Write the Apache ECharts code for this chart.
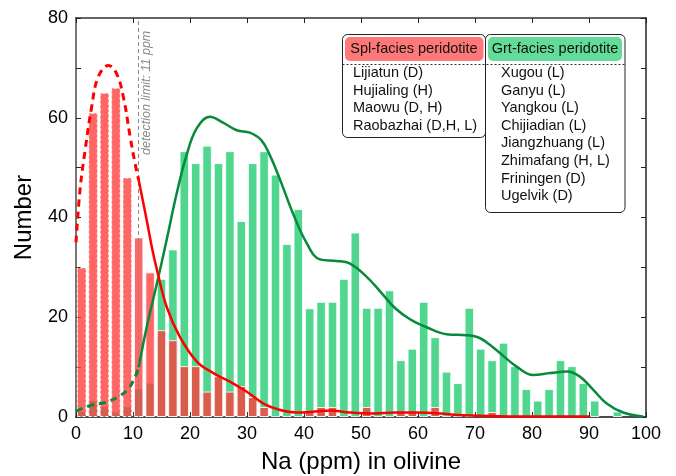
<!DOCTYPE html>
<html>
<head>
<meta charset="utf-8">
<script src="https://cdn.jsdelivr.net/npm/echarts@6/dist/echarts.min.js"></script>
<style>
  html, body { margin: 0; padding: 0; background: #fff; }
  #main { width: 676px; height: 476px; }
</style>
</head>
<body>
<div id="main"></div>
<script>
// 2 ppm bins, centre of each bin
const binCenters = [1, 3, 5, 7, 9, 11, 13, 15, 17, 19, 21, 23, 25, 27, 29, 31, 33, 35, 37, 39,
  41, 43, 45, 47, 49, 51, 53, 55, 57, 59, 61, 63, 65, 67, 69, 71, 73, 75, 77, 79,
  81, 83, 85, 87, 89, 91, 93, 95, 97, 99];
// Spl-facies peridotite counts
const splCounts = [30, 61, 65, 66, 48, 36, 29, 17.4, 15.4, 10.2, 10.2, 5.1, 8.2, 5.1, 6.2, 4, 2, 0, 0, 0,
  1, 2, 2, 0, 0, 2, 0, 0, 1, 1, 0, 2, 0, 0, 0, 0, 1, 0, 0, 0,
  0, 0, 0, 0, 0, 0, 0, 0, 0, 0];
// Grt-facies peridotite counts
const grtCounts = [1.2, 3.3, 2.1, 1.1, 2.1, 5.7, 6.9, 27.7, 33.6, 53.3, 50.9, 54.4, 50.9, 53.3, 39.3, 50.9, 53.3, 48.6, 34.7, 41.7,
  21.8, 23.1, 23.1, 27.7, 37, 21.9, 21.9, 25.4, 11.4, 13.7, 23.1, 16, 9.1, 6.8, 21.9, 13.7, 11.4, 14.9, 10.2, 5.6,
  3.3, 5.6, 11.4, 10.2, 6.8, 3.3, 0, 1.1, 0, 0];

// density curves, dashed below the detection limit
const splCurveLow = [[0, 35], [0.7, 45.5], [1.6, 53.5], [2.75, 62.2], [3.9, 68.2], [5.7, 70.5], [7.1, 68.9],
  [8.3, 64.2], [9.5, 56.2], [10.35, 50.9], [11, 47.5]];
const splCurveHigh = [[11, 47.5], [12.4, 39.5], [13.3, 34.1], [14.2, 29.5], [15.9, 22.1], [18.2, 16.1], [21.2, 11.1],
  [24.1, 8.8], [27, 7.1], [29.9, 5.1], [32.9, 2.7], [35.8, 1.4], [38.7, 0.9], [42, 1.1], [44.6, 1.3], [48, 0.9],
  [52, 0.7], [56, 0.9], [60, 0.9], [64, 0.7], [67, 0.4], [72, 0.2], [80, 0.1], [90, 0.1]];
const grtCurveLow = [[0, 1.2], [2.8, 2.4], [5.1, 2.9], [7.5, 4.1], [9.2, 5.7], [10.4, 8.1], [11, 10]];
const grtCurveHigh = [[11, 10], [12.4, 18], [14.2, 26.8], [15.9, 35.5], [17.7, 45], [19.4, 52.5], [21.2, 57.9],
  [23.5, 60.2], [25.8, 59], [28.2, 57.5], [30.5, 57], [32.5, 55.5], [34, 52.5], [36, 47], [38, 41], [40.5, 34.8],
  [42.8, 31.6], [45.7, 31.3], [48, 30.8], [51, 28.1], [53.5, 25], [56, 21.8], [58.6, 19.6], [61.5, 18], [65, 16.6],
  [68.5, 16.4], [70.5, 16], [72, 15], [74, 13.2], [77.3, 10.1], [80.2, 8.4], [83.2, 8.8], [86.1, 9.1], [88.4, 8.1],
  [90.8, 5.4], [93.1, 2.7], [96, 0.9], [99.5, 0.1]];

const yTickLabels = [0, 20, 40, 60, 80];
const detectionLimit = 11;

const splItems = ['Lijiatun (D)', 'Hujialing (H)', 'Maowu (D, H)', 'Raobazhai (D,H, L)'];
const grtItems = ['Xugou (L)', 'Ganyu (L)', 'Yangkou (L)', 'Chijiadian (L)', 'Jiangzhuang (L)',
  'Zhimafang (H, L)', 'Friningen (D)', 'Ugelvik (D)'];

const FONT = 'Liberation Sans, Arial, sans-serif';

const barData = (counts) => binCenters.map((c, i) => {
  if (!counts[i]) return null;
  const below = c + 1 <= detectionLimit;
  return {
    value: [c, counts[i]],
    itemStyle: below ? { borderType: [3, 2] } : {},
  };
}).filter(d => d);

const chart = echarts.init(document.getElementById('main'), null, { renderer: 'canvas' });

const axisCommon = {
  type: 'value',
  splitLine: { show: false },
  axisTick: { show: true, inside: true, length: 5, lineStyle: { color: '#222', width: 1 } },
};

chart.setOption({
  animation: false,
  grid: { left: 76, right: 30, top: 18, bottom: 59, containLabel: false, outerBoundsMode: 'none' },
  xAxis: [
    {
      ...axisCommon,
      min: 0, max: 100, interval: 10,
      name: 'Na (ppm) in olivine',
      nameLocation: 'middle',
      nameGap: 33,
      nameTextStyle: { fontFamily: FONT, fontSize: 24, color: '#000' },
      axisLine: { onZero: false, lineStyle: { color: '#111', width: 1.5 } },
      axisLabel: { fontFamily: FONT, fontSize: 18, color: '#000', margin: 8 },
    },
    {
      ...axisCommon,
      position: 'top',
      min: 0, max: 100, interval: 10,
      axisLine: { onZero: false, lineStyle: { color: '#333', width: 1.5 } },
      axisLabel: { show: false },
    },
  ],
  yAxis: [
    {
      ...axisCommon,
      min: 0, max: 80, interval: 10,
      name: 'Number',
      nameLocation: 'middle',
      nameGap: 40,
      nameTextStyle: { fontFamily: FONT, fontSize: 24, color: '#000' },
      axisLine: { show: true, onZero: false, lineStyle: { color: '#777', width: 2 } },
      axisLabel: {
        fontFamily: FONT, fontSize: 18, color: '#000', margin: 8,
        formatter: v => (yTickLabels.includes(v) ? String(v) : ''),
      },
    },
    {
      ...axisCommon,
      position: 'right',
      min: 0, max: 80, interval: 10,
      axisLine: { show: true, onZero: false, lineStyle: { color: '#222', width: 1.5 } },
      axisLabel: { show: false },
    },
  ],
  series: [
    {
      name: 'Grt-facies peridotite',
      type: 'bar',
      barWidth: 9.5,
      data: barData(grtCounts),
      itemStyle: { color: '#50d68f', borderColor: 'rgba(255,255,255,0.85)', borderWidth: 1 },
      markLine: {
        silent: true,
        symbol: 'none',
        label: { show: false },
        lineStyle: { color: '#888', type: [4, 3], width: 1 },
        data: [{ xAxis: detectionLimit }],
      },
      z: 2,
    },
    {
      name: 'Spl-facies peridotite',
      type: 'bar',
      barWidth: 9.5,
      barGap: '-100%',
      data: barData(splCounts),
      itemStyle: { color: 'rgba(255,59,59,0.78)', borderColor: 'rgba(255,255,255,0.85)', borderWidth: 1 },
      z: 3,
    },
    {
      type: 'line', data: grtCurveLow, smooth: 0.4, showSymbol: false, z: 5,
      lineStyle: { color: '#078a3c', width: 3, type: [7, 5] },
    },
    {
      type: 'line', data: grtCurveHigh, smooth: 0.4, showSymbol: false, z: 5,
      lineStyle: { color: '#078a3c', width: 2.5 },
    },
    {
      type: 'line', data: splCurveLow, smooth: 0.4, showSymbol: false, z: 6,
      lineStyle: { color: '#ff0000', width: 3, type: [7, 5] },
    },
    {
      type: 'line', data: splCurveHigh, smooth: 0.4, showSymbol: false, z: 6,
      lineStyle: { color: '#ff0000', width: 2.5 },
    },
  ],
});

// detection-limit label and the two legend boxes
const dl = chart.convertToPixel({ gridIndex: 0 }, [detectionLimit, 65]);
const lineH = 17.6;
const graphics = [
  {
    type: 'text', x: dl[0] + 8, y: dl[1], rotation: Math.PI / 2, z: 10,
    style: {
      text: 'detection limit: 11 ppm', fill: '#888', fontFamily: FONT, fontSize: 12.5,
      fontStyle: 'italic', align: 'center', verticalAlign: 'middle',
    },
  },
  {
    type: 'rect', z: 10, shape: { x: 342.5, y: 34.5, width: 143, height: 103, r: 5 },
    style: { fill: '#fff', stroke: '#222', lineWidth: 1 },
  },
  {
    type: 'rect', z: 10, shape: { x: 485.5, y: 34.5, width: 139.5, height: 178, r: 5 },
    style: { fill: '#fff', stroke: '#222', lineWidth: 1 },
  },
  {
    type: 'rect', z: 11, shape: { x: 345, y: 37, width: 138.5, height: 24, r: 5 },
    style: { fill: '#ff7878' },
  },
  {
    type: 'rect', z: 11, shape: { x: 488, y: 37, width: 134, height: 24, r: 5 },
    style: { fill: '#62dc98' },
  },
  {
    type: 'line', z: 11, shape: { x1: 342.5, y1: 64.5, x2: 625, y2: 64.5 },
    style: { stroke: '#333', lineWidth: 1, lineDash: [2, 2] },
  },
  {
    type: 'text', z: 12, x: 414, y: 49,
    style: { text: 'Spl-facies peridotite', fill: '#111', fontFamily: FONT, fontSize: 14.5, align: 'center', verticalAlign: 'middle' },
  },
  {
    type: 'text', z: 12, x: 555, y: 49,
    style: { text: 'Grt-facies peridotite', fill: '#111', fontFamily: FONT, fontSize: 14.5, align: 'center', verticalAlign: 'middle' },
  },
];
splItems.forEach((t, i) => {
  graphics.push({
    type: 'text', z: 12, x: 353, y: 73 + i * lineH,
    style: { text: t, fill: '#111', fontFamily: FONT, fontSize: 14.5, align: 'left', verticalAlign: 'middle' },
  });
});
grtItems.forEach((t, i) => {
  graphics.push({
    type: 'text', z: 12, x: 501, y: 73 + i * lineH,
    style: { text: t, fill: '#111', fontFamily: FONT, fontSize: 14.5, align: 'left', verticalAlign: 'middle' },
  });
});
chart.setOption({ graphic: graphics });
</script>
</body>
</html>
